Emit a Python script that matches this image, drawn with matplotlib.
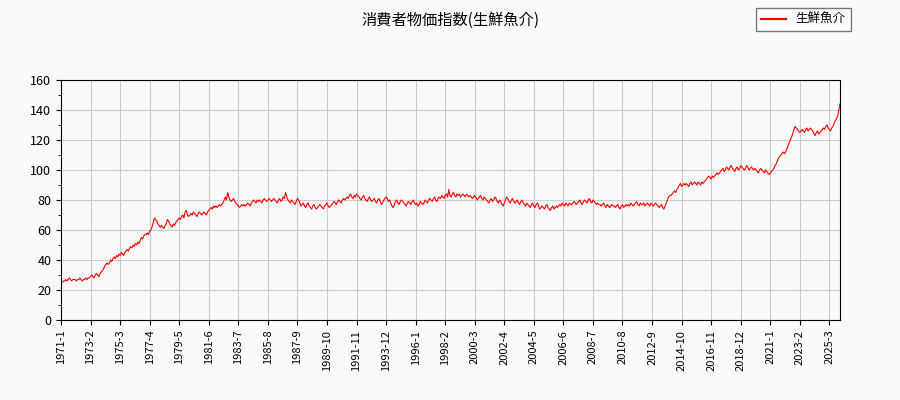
import matplotlib.pyplot as plt

plt.rcParams['font.family'] = ['Noto Sans CJK JP', 'DejaVu Sans']

# 月次の指数値 (1971-1 〜 2025-12), 1行 = 1年
values_by_year = {
    1971: [25, 25, 26, 26, 27, 26, 27, 28, 27, 26, 27, 27],
    1972: [27, 26, 27, 27, 28, 27, 26, 27, 27, 28, 27, 28],
    1973: [28, 29, 30, 29, 28, 30, 31, 30, 29, 31, 32, 33],
    1974: [34, 36, 37, 38, 37, 38, 40, 39, 41, 42, 41, 43],
    1975: [42, 44, 43, 45, 44, 43, 45, 46, 47, 46, 48, 49],
    1976: [48, 50, 49, 51, 50, 52, 51, 53, 55, 54, 56, 57],
    1977: [57, 58, 57, 59, 60, 62, 65, 68, 67, 66, 64, 63],
    1978: [62, 63, 62, 61, 63, 64, 67, 66, 64, 63, 62, 64],
    1979: [63, 65, 66, 67, 68, 67, 69, 70, 68, 72, 73, 70],
    1980: [69, 70, 71, 70, 72, 71, 70, 69, 71, 72, 71, 70],
    1981: [71, 72, 71, 70, 72, 73, 74, 75, 74, 76, 75, 76],
    1982: [75, 76, 77, 76, 77, 78, 80, 82, 80, 85, 82, 80],
    1983: [79, 80, 81, 79, 78, 77, 76, 75, 76, 77, 76, 77],
    1984: [76, 77, 78, 77, 76, 78, 79, 80, 79, 78, 80, 79],
    1985: [80, 79, 78, 80, 81, 80, 79, 80, 81, 80, 79, 80],
    1986: [81, 80, 79, 78, 80, 81, 79, 80, 82, 81, 85, 82],
    1987: [80, 79, 78, 80, 79, 78, 77, 79, 81, 80, 78, 76],
    1988: [77, 78, 76, 75, 77, 78, 76, 75, 74, 76, 77, 75],
    1989: [74, 75, 76, 77, 76, 75, 74, 76, 77, 78, 76, 75],
    1990: [76, 77, 78, 79, 78, 77, 79, 80, 79, 78, 80, 81],
    1991: [80, 81, 82, 81, 83, 84, 82, 81, 83, 82, 84, 83],
    1992: [82, 81, 80, 82, 83, 81, 80, 79, 81, 82, 80, 79],
    1993: [80, 81, 79, 78, 80, 81, 79, 77, 78, 80, 81, 82],
    1994: [81, 79, 80, 78, 76, 75, 77, 79, 80, 78, 77, 79],
    1995: [80, 79, 78, 77, 76, 78, 79, 78, 77, 79, 80, 78],
    1996: [77, 78, 76, 77, 79, 78, 77, 78, 80, 79, 78, 80],
    1997: [81, 80, 79, 81, 82, 80, 79, 81, 82, 81, 83, 82],
    1998: [81, 83, 84, 82, 87, 83, 82, 84, 85, 83, 82, 84],
    1999: [83, 84, 82, 83, 84, 83, 82, 84, 83, 82, 83, 82],
    2000: [81, 82, 83, 82, 80, 81, 82, 83, 81, 80, 82, 81],
    2001: [80, 79, 78, 80, 81, 79, 80, 82, 81, 79, 78, 80],
    2002: [79, 77, 76, 78, 80, 82, 81, 79, 78, 80, 81, 79],
    2003: [78, 79, 80, 78, 77, 79, 80, 78, 77, 76, 78, 77],
    2004: [76, 75, 77, 78, 76, 75, 77, 78, 76, 74, 75, 76],
    2005: [75, 74, 76, 77, 75, 74, 73, 75, 76, 74, 75, 76],
    2006: [75, 76, 77, 76, 78, 77, 76, 78, 77, 76, 78, 77],
    2007: [77, 78, 79, 78, 77, 78, 79, 80, 78, 77, 79, 80],
    2008: [79, 78, 80, 81, 79, 78, 80, 79, 78, 77, 78, 77],
    2009: [77, 76, 77, 78, 76, 75, 77, 76, 75, 76, 77, 76],
    2010: [76, 75, 76, 77, 75, 74, 76, 77, 75, 76, 77, 76],
    2011: [77, 76, 78, 77, 76, 77, 78, 79, 77, 76, 78, 77],
    2012: [77, 78, 76, 77, 78, 77, 76, 78, 77, 76, 77, 78],
    2013: [77, 76, 75, 76, 77, 75, 74, 76, 78, 80, 82, 83],
    2014: [83, 84, 85, 86, 85, 87, 88, 90, 91, 89, 90, 91],
    2015: [90, 91, 90, 89, 91, 92, 90, 91, 92, 91, 90, 92],
    2016: [91, 90, 92, 91, 92, 93, 94, 95, 96, 95, 94, 96],
    2017: [95, 96, 97, 98, 97, 98, 99, 100, 101, 99, 100, 102],
    2018: [101, 100, 102, 103, 101, 100, 99, 101, 102, 100, 101, 103],
    2019: [102, 101, 100, 101, 103, 102, 100, 101, 102, 101, 100, 101],
    2020: [100, 99, 98, 100, 101, 100, 99, 98, 100, 99, 98, 97],
    2021: [98, 99, 100, 101, 103, 104, 106, 108, 109, 110, 111, 112],
    2022: [111, 112, 114, 116, 118, 120, 122, 124, 127, 129, 128, 127],
    2023: [126, 125, 126, 127, 126, 125, 127, 128, 126, 127, 128, 127],
    2024: [126, 124, 123, 125, 126, 124, 125, 126, 127, 128, 127, 129],
    2025: [130, 128, 127, 126, 128, 129, 131, 133, 134, 136, 140, 144],
}

years = sorted(values_by_year)
labels = [f"{y}-{m}" for y in years for m in range(1, 13)]
values = [v for y in years for v in values_by_year[y]]
x = list(range(len(values)))

bg = "#fafafa"
fig = plt.figure(figsize=(9, 4), dpi=100, facecolor=bg)
ax = fig.add_axes([61 / 900, 80 / 400, (840 - 61) / 900, 240 / 400], facecolor=bg)

ax.plot(x, values, color="red", linewidth=0.8, label="生鮮魚介")

tick_idx = list(range(0, len(values), 25))
ax.set_xticks(tick_idx)
ax.set_xticklabels([labels[i] for i in tick_idx], rotation=90, fontsize=8)
ax.set_xlim(0, len(values) - 1)
ax.set_ylim(0, 160)
ax.set_yticks(range(0, 161, 20))
ax.set_yticks(range(0, 161, 10), minor=True)
ax.tick_params(axis="y", labelsize=9)
ax.grid(True, color="#cccccc", linewidth=0.8)

fig.suptitle("消費者物価指数(生鮮魚介)", y=0.97, fontsize=11)
leg = fig.legend(loc="upper right", bbox_to_anchor=(0.952, 0.995), fontsize=9,
                 fancybox=False, edgecolor="#555555", facecolor="white")
for h in leg.get_lines():
    h.set_linewidth(1.6)

fig.savefig("out.png", dpi=100, facecolor=bg)
